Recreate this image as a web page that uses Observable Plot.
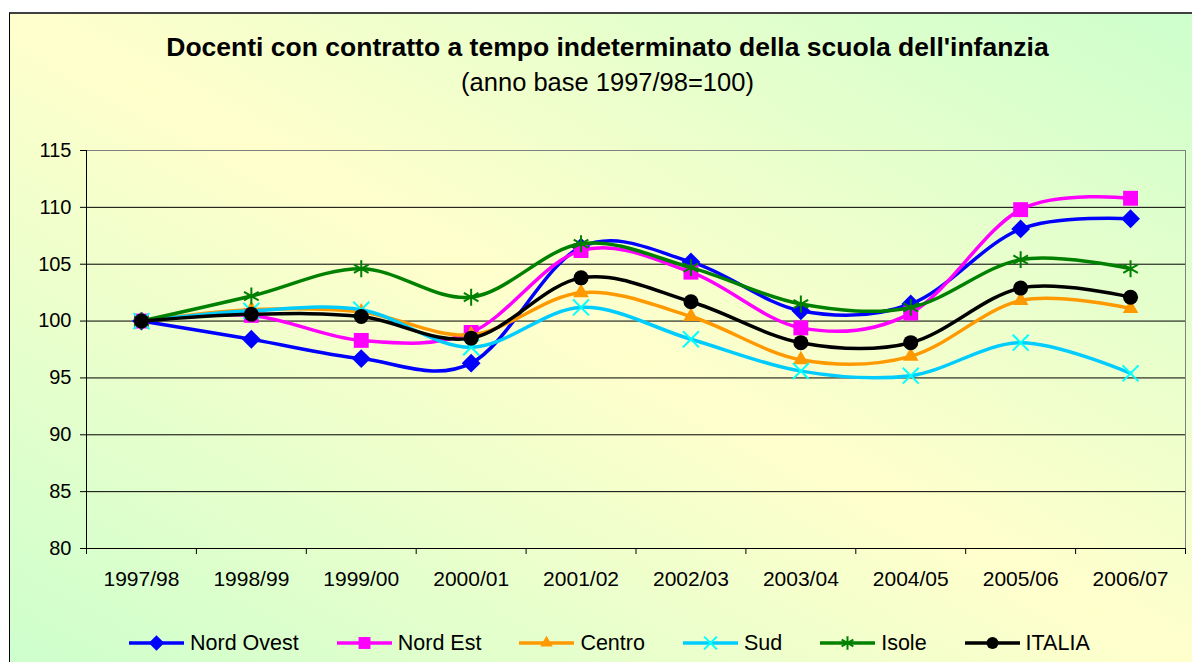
<!DOCTYPE html>
<html>
<head>
<meta charset="utf-8">
<script src="https://cdn.jsdelivr.net/npm/d3@7"></script>
<script src="https://cdn.jsdelivr.net/npm/@observablehq/plot@0.6"></script>
<style>
  html, body { margin: 0; padding: 0; background: #ffffff; overflow: hidden; }
  body { width: 1192px; height: 662px; position: relative; font-family: "Liberation Sans", Arial, sans-serif; }
  #area { position: absolute; left: 9px; top: 12px; width: 1200px; height: 660px;
    border-left: 1px solid #000; border-top: 2px solid #404040;
    background: linear-gradient(to bottom left, #ccffcc 0%, #ffffcc 50%, #ccffcc 100%); }
  #title { position: absolute; left: 0; width: 1215px; top: 32px; text-align: center;
    font-size: 26.5px; font-weight: bold; line-height: 30px; color: #000; }
  #subtitle { position: absolute; left: 0; width: 1215px; top: 67px; text-align: center;
    font-size: 25.5px; line-height: 30px; color: #000; }
  #plot { position: absolute; left: 0; top: 130px; }
  #legend { position: absolute; left: 129px; top: 630px; display: flex; align-items: center; height: 26px; }
  .item { display: flex; align-items: center; margin-right: 38px; font-size: 21.5px; color: #000; }
  .item svg { margin-right: 6px; }
</style>
</head>
<body>
<div id="area"></div>
<div id="title">Docenti con contratto a tempo indeterminato della scuola dell'infanzia</div>
<div id="subtitle">(anno base 1997/98=100)</div>
<div id="plot"></div>
<div id="legend"></div>
<script>
const years = ["1997/98","1998/99","1999/00","2000/01","2001/02","2002/03","2003/04","2004/05","2005/06","2006/07"];
const yTicks = [80, 85, 90, 95, 100, 105, 110, 115];

const nordOvest = [100, 98.4, 96.7, 96.3, 106.5, 105.2, 100.9, 101.5, 108.1, 109.0];
const nordEst   = [100, 100.5, 98.3, 99.0, 106.2, 104.3, 99.4, 100.7, 109.8, 110.8];
const centro    = [100, 101.0, 100.8, 98.8, 102.5, 100.4, 96.6, 96.9, 101.8, 101.1];
const sud       = [100, 100.9, 101.0, 97.7, 101.2, 98.4, 95.6, 95.2, 98.1, 95.4];
const isole     = [100, 102.2, 104.6, 102.1, 106.8, 104.7, 101.5, 101.2, 105.4, 104.6];
const italia    = [100, 100.6, 100.4, 98.5, 103.8, 101.7, 98.1, 98.1, 102.9, 102.1];

const seriesNames = ["Nord Ovest", "Nord Est", "Centro", "Sud", "Isole", "ITALIA"];
const seriesValues = [nordOvest, nordEst, centro, sud, isole, italia];
const lineColors = ["#0000ff", "#ff00ff", "#ff9900", "#00ccff", "#008000", "#000000"];
const markerSymbols = ["diamond2", "square", "triangle", "times", "asterisk", "circle"];
const markerFill = ["#0000ff", "#ff00ff", "#ff9900", "none", "none", "#000000"];
const markerStroke = ["#0000ff", "none", "none", "#00ffff", "#008000", "none"];
const markerR = [7.2, 8.4, 5.8, 7.3, 8.0, 7.5];

const idx = years.map((_, i) => i);
const bounds = d3.range(years.length + 1).map(i => i - 0.5);
const gridVals = yTicks.filter(v => v > 80 && v < 115);

const marks = [
  Plot.frame({stroke: "#808080"}),
  Plot.ruleY(gridVals, {stroke: "#000", strokeWidth: 1}),
  Plot.ruleX([-0.5], {stroke: "#000"}),
  Plot.ruleY([80], {stroke: "#000"}),
  Plot.axisY({ticks: yTicks, tickSize: 6, tickPadding: 9, fontSize: 20, label: null}),
  Plot.axisX({ticks: bounds, tickSize: 6, tickFormat: () => "", label: null}),
  Plot.axisX({ticks: idx, tickSize: 0, tickPadding: 23, fontSize: 21, tickFormat: i => years[i], label: null})
];

seriesNames.forEach((name, s) => {
  const rows = seriesValues[s].map((v, i) => ({i, value: v, name}));
  marks.push(Plot.line(rows, {x: "i", y: "value", stroke: lineColors[s], strokeWidth: 3.5, curve: "cardinal"}));
  marks.push(Plot.dot(rows, {x: "i", y: "value", symbol: markerSymbols[s], r: markerR[s],
    fill: markerFill[s], stroke: markerStroke[s], strokeWidth: 2}));
});

const chart = Plot.plot({
  width: 1192,
  height: 470,
  marginLeft: 86,
  marginRight: 7,
  marginTop: 20,
  marginBottom: 52,
  style: {background: "transparent", color: "#000", fontFamily: "Liberation Sans, Arial, sans-serif"},
  x: {type: "linear", domain: [-0.5, years.length - 0.5], axis: null},
  y: {domain: [80, 115], axis: null},
  marks
});
document.getElementById("plot").appendChild(chart);

// legend
const legend = d3.select("#legend");
const symMap = {diamond2: d3.symbolDiamond2, square: d3.symbolSquare, triangle: d3.symbolTriangle,
  times: d3.symbolTimes, asterisk: d3.symbolAsterisk, circle: d3.symbolCircle};
seriesNames.forEach((name, s) => {
  const item = legend.append("div").attr("class", "item");
  const svg = item.append("svg").attr("width", 55).attr("height", 20);
  svg.append("line").attr("x1", 0).attr("x2", 55).attr("y1", 10).attr("y2", 10)
    .attr("stroke", lineColors[s]).attr("stroke-width", 3.5);
  const r = markerR[s] * 0.8;
  svg.append("path").attr("transform", "translate(27.5,10)")
    .attr("d", d3.symbol(symMap[markerSymbols[s]], Math.PI * r * r)())
    .attr("fill", markerFill[s]).attr("stroke", markerStroke[s]).attr("stroke-width", 2);
  item.append("span").text(name);
});
</script>
</body>
</html>
